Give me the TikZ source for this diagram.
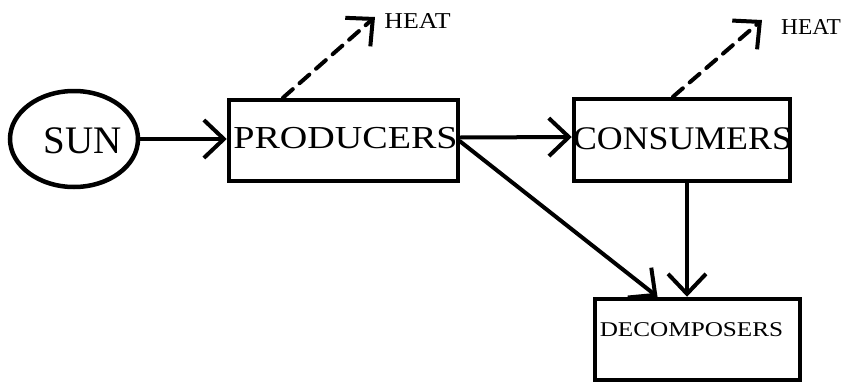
\documentclass[tikz,border=0pt]{standalone}
\usepackage{fontspec}
\usepackage{graphicx}
\setmainfont{Liberation Serif}
\usetikzlibrary{arrows.meta,shapes.geometric}

\tikzset{
  frame/.style={draw, line width=4.5pt, rectangle, inner sep=0pt},
  sunshape/.style={draw, line width=4.5pt, ellipse, inner sep=0pt},
  txt/.style={inner sep=0pt, anchor=center},
  flow/.style={line width=4pt, line cap=round,
    -{Straight Barb[length=20pt,width=38pt,line width=4pt]}},
  heatflow/.style={flow, dash pattern=on 13pt off 9pt}
}

\newcommand{\txtsize}[3]{\fontsize{#1}{#1}\selectfont\scalebox{#2}[1]{#3}}

\begin{document}
\begin{tikzpicture}[x=1pt,y=-1pt]
  \useasboundingbox (0,0) rectangle (853,383);

  % energy source and trophic levels
  \node[sunshape, minimum width=128pt, minimum height=96pt] (sun) at (74,139) {};
  \node[frame, minimum width=229pt, minimum height=81pt] (prod) at (343.5,140.5) {};
  \node[frame, minimum width=216pt, minimum height=82pt] (cons) at (682,140) {};
  \node[frame, minimum width=205pt, minimum height=81pt] (dec) at (697.5,339.5) {};

  % labels
  \node[txt] (sunt) at (82.5,141) {\txtsize{39pt}{1.0}{SUN}};
  \node[txt] (prodt) at (345.5,138.5) {\txtsize{32pt}{1.19}{PRODUCERS}};
  \node[txt] (const) at (682.5,139) {\txtsize{33pt}{1.085}{CONSUMERS}};
  \node[txt] (dect) at (691.5,330) {\txtsize{21pt}{1.2}{DECOMPOSERS}};
  \node[txt] (heat1) at (417.5,21) {\txtsize{22.7pt}{1.14}{HEAT}};
  \node[txt] (heat2) at (811,27.5) {\txtsize{22.7pt}{1.03}{HEAT}};

  % heat loss ends
  \coordinate (h1) at (375,17);
  \coordinate (h2) at (762,20);

  % energy flow
  \draw[flow] (sun.east) -- (sun.east -| prod.west);
  \draw[flow] ([yshift=3pt]prod.east) -- ([yshift=3pt]cons.west);
  \draw[flow] ([yshift=-1pt]prod.east) -- ([xshift=-40pt]dec.north);
  \draw[flow] ([xshift=5pt]cons.south) -- ([xshift=-10.5pt]dec.north);

  % heat loss
  \draw[heatflow] ([xshift=-60.5pt]prod.north) -- (h1);
  \draw[heatflow] ([xshift=-9pt]cons.north) -- (h2);
\end{tikzpicture}
\end{document}
